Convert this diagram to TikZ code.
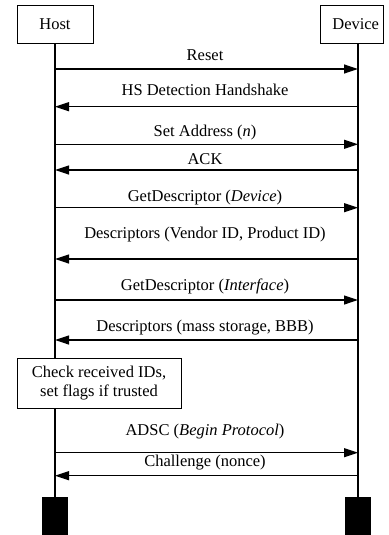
\documentclass[tikz,border=0pt]{standalone}
\usepackage{fontspec}
\setmainfont{Liberation Serif}
\usetikzlibrary{arrows.meta}
\begin{document}
\begin{tikzpicture}[x=1pt,y=-1pt,
  font=\fontsize{16.5}{19}\selectfont,
  actor/.style={draw,line width=0.9pt,fill=white,minimum width=76pt,minimum height=38pt,inner sep=0pt},
  bar/.style={fill=black,draw=none,minimum width=26.6pt,minimum height=40pt,inner sep=0pt},
  life/.style={line width=1.1pt},
  msg/.style={line width=1.2pt,-{Triangle[length=14pt,width=9pt]}},
  lbl/.style={anchor=base,inner sep=0pt},
  note/.style={draw,line width=0.9pt,fill=white,minimum width=164pt,minimum height=50pt,inner sep=0pt,align=center}]
\useasboundingbox (0,0) rectangle (388,535);
\node[actor] (host) at (55,24) {Host};
\node[actor,minimum width=63.5pt] (dev) at (351.7,24) {\hspace*{8pt}Device};
\node[bar] (hbar) at (55,517) {};
\node[bar] (dbar) at (358,517) {};
\draw[life] (host.south) -- (hbar.north);
\draw[life] (dev.south -| dbar.north) -- (dbar.north);
% messages
\foreach \n/\y in {1/69,2/106.7,3/144.3,4/170,5/207.7,6/259,7/300,8/340,9/452.7,10/475.7}{
  \coordinate (h\n) at (55,\y);
  \coordinate (d\n) at (358,\y);
}
\draw[msg] (h1) -- (d1);
\draw[msg] (d2) -- (h2);
\draw[msg] (h3) -- (d3);
\draw[msg] (d4) -- (h4);
\draw[msg] (h5) -- (d5);
\draw[msg] (d6) -- (h6);
\draw[msg] (h7) -- (d7);
\draw[msg] (d8) -- (h8);
\draw[msg] (h9) -- (d9);
\draw[msg] (d10) -- (h10);
\node[lbl] (l1) at (205,60) {Reset};
\node[lbl] (l2) at (205,95.7) {HS Detection Handshake};
\node[lbl] (l3) at (205,136) {Set Address (\textit{n})};
\node[lbl] (l4) at (205,164.3) {ACK};
\node[lbl] (l5) at (205,201) {GetDescriptor (\textit{Device})};
\node[lbl] (l6) at (205,238.3) {Descriptors (Vendor ID, Product ID)};
\node[lbl] (l7) at (205,290) {GetDescriptor (\textit{Interface})};
\node[lbl] (l8) at (205,331) {Descriptors (mass storage, BBB)};
\node[lbl] (l9) at (205,435) {ADSC (\textit{Begin Protocol})};
\node[lbl] (l10) at (205,466) {Challenge (nonce)};
\node[note] (check) at (99,383) {Check received IDs,\\set flags if trusted};
\end{tikzpicture}
\end{document}
